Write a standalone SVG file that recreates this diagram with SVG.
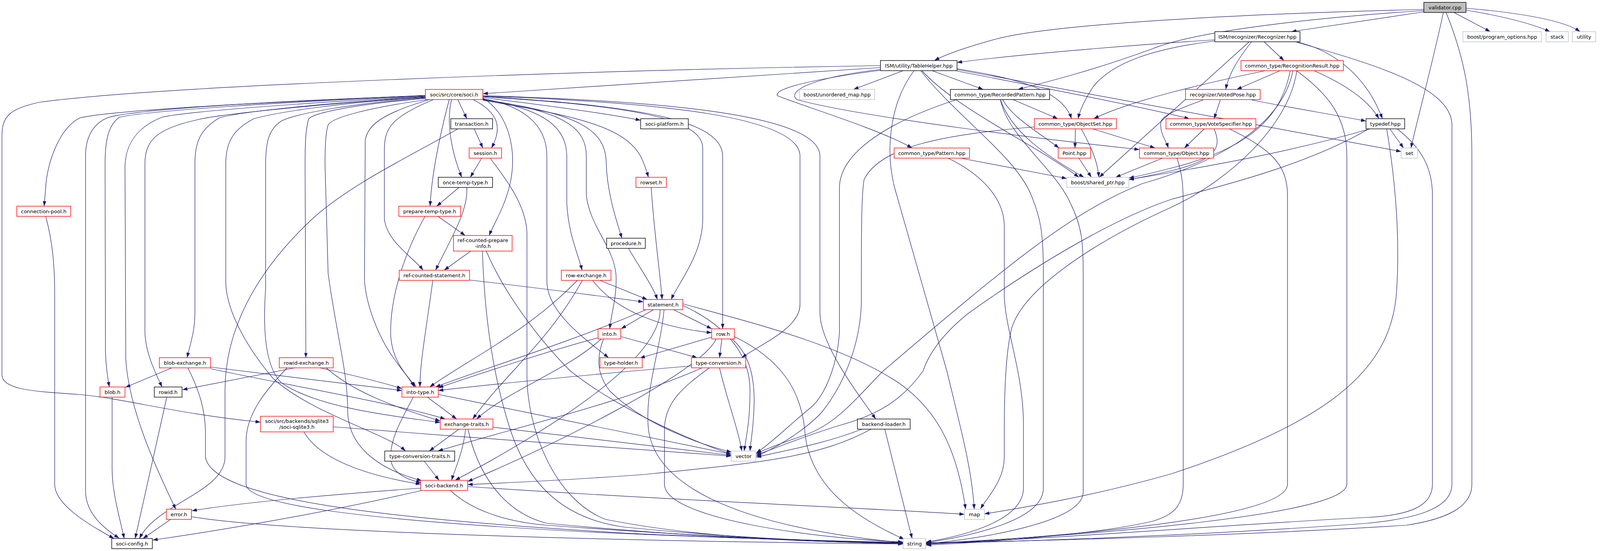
<svg xmlns="http://www.w3.org/2000/svg" width="4157" height="1411" viewBox="0 0 4157 1411">
<style>
.e{fill:none;stroke:#191970;stroke-width:1.2;marker-end:url(#a)}
.n rect{fill:#fff;stroke-width:1.4}
.k rect{stroke:#000}
.r rect{stroke:#ff0000}
.g rect{stroke:#bfbfbf}
.n text{font-family:"DejaVu Sans","Liberation Sans",sans-serif;font-size:13px;text-anchor:middle;fill:#000}
</style>
<defs>
<marker id="a" viewBox="0 0 10 7" refX="10" refY="3.5" markerWidth="13" markerHeight="9" markerUnits="userSpaceOnUse" orient="auto"><path d="M0,0 L10,3.5 L0,7 z" fill="#191970"/></marker>
</defs>
<rect x="0" y="0" width="4157" height="1411" fill="#fff"/>
<g id="edges">
<path class="e" d="M3647,30 L3306,81"/>
<path class="e" d="M3645,24 C3200,35 2700,60 2550,100 C2470,122 2420,140 2392,155"/>
<path class="e" d="M3645,27 C3300,50 3050,85 2950,125 C2800,180 2680,210 2606,229"/>
<path class="e" d="M3722,32 L3815,81"/>
<path class="e" d="M3753,26 C3850,42 3920,60 3968,81"/>
<path class="e" d="M3753,21 C3880,32 4000,50 4045,81"/>
<path class="e" d="M3695,32 C3670,150 3630,300 3612,379"/>
<path class="e" d="M3702,32 C3750,150 3768,250 3768,400 L3768,1240 C3768,1300 3700,1330 3600,1345 C3200,1370 2700,1385 2370,1390"/>
<path class="e" d="M3110,102 C2900,115 2600,140 2450,160"/>
<path class="e" d="M3110,105 C2950,125 2850,160 2800,220 C2780,250 2765,280 2760,304"/>
<path class="e" d="M3236,107 L3287,155"/>
<path class="e" d="M3204,107 C3170,150 3145,190 3138,229"/>
<path class="e" d="M3319,107 C3420,130 3500,200 3539,304"/>
<path class="e" d="M3198,107 L2814,454"/>
<path class="e" d="M3316,107 C3500,160 3717,220 3717,320 L3717,1240 C3717,1310 3600,1330 3500,1340 C3100,1370 2600,1388 2370,1391"/>
<path class="e" d="M3277,181 L3166,229"/>
<path class="e" d="M3239,181 C3100,210 2900,255 2800,304"/>
<path class="e" d="M3364,181 C3430,210 3500,250 3530,304"/>
<path class="e" d="M3319,181 C3400,240 3448,300 3448,400 L3448,1240 C3448,1320 2800,1370 2370,1392"/>
<path class="e" d="M3303,181 C3280,300 3200,380 3000,430 C2950,443 2920,450 2890,456"/>
<path class="e" d="M3310,181 C3280,330 3100,420 2925,470 C2750,540 2600,660 2261,950 C2200,1010 2150,1080 2064,1113 C2000,1135 1960,1150 1936,1162"/>
<path class="e" d="M3320,181 C3300,320 3150,460 3000,530 C2800,620 2620,740 2590,840 C2575,900 2571,1000 2571,1100 L2571,1170 C2571,1230 2530,1270 2510,1303"/>
<path class="e" d="M3558,330 L3593,379"/>
<path class="e" d="M3577,330 C3640,380 3667,430 3667,500 L3667,1240 C3667,1300 3600,1320 3500,1325 C3200,1340 2700,1380 2371,1392"/>
<path class="e" d="M3550,330 C3570,450 3585,600 3575,750 C3560,950 3400,1080 3000,1213 C2800,1270 2620,1300 2520,1316"/>
<path class="e" d="M3507,330 C3300,390 3100,425 2890,460"/>
<path class="e" d="M3504,330 C3350,420 3150,470 3000,510 C2850,560 2650,680 2478,803 C2420,850 2380,900 2363,950 C2300,1040 2220,1070 2147,1090 C2050,1120 1980,1150 1936,1165"/>
<path class="e" d="M3124,256 L3108,304"/>
<path class="e" d="M3204,256 C3300,275 3420,295 3497,310"/>
<path class="e" d="M3080,256 C3030,275 2978,292 2972,312 C2968,340 2985,360 2991,379"/>
<path class="e" d="M3083,330 L3032,379"/>
<path class="e" d="M3108,330 C3130,380 3110,410 3000,437 C2950,448 2920,455 2890,460"/>
<path class="e" d="M3147,330 C3250,380 3296,420 3296,500 L3296,1240 C3296,1330 2700,1375 2371,1394"/>
<path class="e" d="M2753,330 L2752,379"/>
<path class="e" d="M2768,330 C2790,370 2810,410 2813,454"/>
<path class="e" d="M2797,330 L2957,379"/>
<path class="e" d="M2648,325 C2400,345 2250,380 2212,460 C2205,500 2205,600 2205,780 C2200,900 2150,1000 2100,1060 C2050,1110 1980,1150 1936,1168"/>
<path class="e" d="M2762,405 L2794,454"/>
<path class="e" d="M2976,405 L2856,454"/>
<path class="e" d="M3013,405 C3025,440 3029,470 3029,520 L3029,1240 C3029,1300 3000,1320 2950,1335 C2800,1370 2500,1390 2371,1396"/>
<path class="e" d="M2459,405 L2731,457"/>
<path class="e" d="M2427,405 C2500,440 2571,500 2571,580 L2571,760 C2575,850 2618,950 2620,1080 L2620,1250 C2620,1330 2480,1370 2371,1388"/>
<path class="e" d="M2593,255 L2708,304"/>
<path class="e" d="M2567,255 C2590,300 2660,340 2711,379"/>
<path class="e" d="M2561,255 C2590,340 2680,400 2775,454"/>
<path class="e" d="M2561,255 C2580,350 2700,430 2740,520 C2770,580 2773,620 2773,700 L2773,1260 C2773,1340 2500,1380 2370,1393"/>
<path class="e" d="M2446,256 C2250,320 2150,400 2149,480 L2149,850 C2145,920 2120,1000 2080,1040 C2030,1080 1980,1130 1936,1160"/>
<path class="e" d="M2254,168 C1500,180 400,220 100,262 C20,280 5,300 5,350 L5,960 C5,1000 100,1003 200,1010 C320,1020 450,1060 667,1081"/>
<path class="e" d="M2254,173 L1236,240"/>
<path class="e" d="M2312,181 L2185,229"/>
<path class="e" d="M2386,181 L2517,229"/>
<path class="e" d="M2340,181 C2280,260 2265,380 2290,480 L2424,950 C2460,1100 2488,1200 2494,1304"/>
<path class="e" d="M2357,181 C2450,300 2600,400 2640,500 C2665,560 2671,600 2671,700 L2671,1250 C2671,1330 2500,1370 2370,1390"/>
<path class="e" d="M2360,181 C2450,280 2650,370 2762,454"/>
<path class="e" d="M2450,176 C2600,200 2720,230 2743,304"/>
<path class="e" d="M2450,178 L3587,388"/>
<path class="e" d="M2450,182 C2700,230 2950,280 3045,304"/>
<path class="e" d="M2254,178 C2100,195 2010,230 2040,255 C2200,300 2700,360 2917,383"/>
<path class="e" d="M2254,180 C2100,200 1980,225 1990,245 C2050,270 2250,330 2335,379"/>
<path class="e" d="M1089,244 C700,262 300,280 204,302 C150,330 120,420 117,480 L113,528"/>
<path class="e" d="M1089,245 C600,262 320,285 274,302 C232,320 219,360 219,400 L219,1257 C219,1310 260,1350 305,1378"/>
<path class="e" d="M1089,246 C700,262 380,284 306,300 C277,320 269,360 269,420 L270,900 C271,940 275,965 280,991"/>
<path class="e" d="M1089,247 C800,262 480,285 415,300 C340,330 320,380 320,430 L322,920 C330,1050 400,1200 450,1304"/>
<path class="e" d="M1089,248 C850,264 560,292 504,307 C400,330 371,360 371,420 L371,850 C372,900 395,950 415,991"/>
<path class="e" d="M1089,249 C850,262 620,285 561,302 C515,330 499,360 499,420 L499,800 C499,850 487,880 479,916"/>
<path class="e" d="M1089,250 C860,262 700,290 650,304 C600,330 578,360 578,420 L578,720 C578,800 640,900 700,970 C800,1060 990,1110 1038,1155"/>
<path class="e" d="M1089,251 C900,265 760,290 720,310 C690,330 680,360 680,420 L680,740 C672,850 680,940 720,980 C820,1050 1050,1070 1127,1082"/>
<path class="e" d="M1089,252 C900,268 800,290 790,305 C783,330 781,360 781,420 L783,916"/>
<path class="e" d="M1094,255 C950,275 850,300 840,320 C833,340 832,380 832,420 L840,700 C860,850 890,950 890,1050 C890,1150 980,1205 1080,1231"/>
<path class="e" d="M1100,255 C980,290 940,320 935,360 L933,720 C940,800 980,880 1010,920 C1030,950 1050,970 1060,991"/>
<path class="e" d="M1110,255 C1000,300 985,330 984,380 L984,560 C990,620 1060,660 1083,692"/>
<path class="e" d="M1172,255 L1195,304"/>
<path class="e" d="M1156,255 C1140,320 1160,400 1182,454"/>
<path class="e" d="M1150,255 C1125,350 1105,450 1101,528"/>
<path class="e" d="M1211,255 C1280,290 1285,330 1258,379"/>
<path class="e" d="M1236,251 C1300,290 1325,380 1306,470 C1292,530 1266,570 1252,603"/>
<path class="e" d="M1236,253 C1340,270 1400,320 1400,400 L1400,720 C1400,800 1500,870 1558,916"/>
<path class="e" d="M1236,254 C1400,280 1451,330 1451,400 L1451,520 C1455,600 1480,650 1490,692"/>
<path class="e" d="M1236,255 C1450,285 1501,330 1501,400 L1501,500 C1510,580 1570,630 1577,703 C1580,760 1565,800 1561,842"/>
<path class="e" d="M1236,256 C1480,290 1552,330 1552,420 C1555,500 1580,570 1592,610"/>
<path class="e" d="M1236,257 C1500,300 1600,330 1640,400 C1650,420 1656,440 1660,454"/>
<path class="e" d="M1236,250 C1400,270 1550,290 1640,308"/>
<path class="e" d="M1236,248 C1600,270 1799,300 1799,380 L1799,560 C1799,650 1740,720 1718,767"/>
<path class="e" d="M1236,247 C1650,272 1850,310 1850,400 L1850,842"/>
<path class="e" d="M1236,246 C1700,262 2048,300 2048,400 L2048,780 C2048,840 1950,880 1899,916"/>
<path class="e" d="M1236,245 C1750,260 2099,300 2099,400 L2099,800 C2099,880 2190,1000 2242,1073"/>
<path class="e" d="M1214,330 L1236,379"/>
<path class="e" d="M1172,330 C1050,400 900,470 800,560 C650,700 576,850 576,1000 L576,1170 C576,1260 400,1290 357,1379"/>
<path class="e" d="M1233,405 L1204,454"/>
<path class="e" d="M1255,405 C1280,440 1349,520 1349,600 L1349,960 C1349,1100 1420,1280 1550,1330 C1800,1380 2100,1388 2312,1392"/>
<path class="e" d="M1175,480 L1118,528"/>
<path class="e" d="M1195,480 C1198,540 1160,600 1115,692"/>
<path class="e" d="M1121,554 L1191,603"/>
<path class="e" d="M1088,554 C1040,640 1000,750 1000,850 C1000,920 1040,960 1065,991"/>
<path class="e" d="M1205,643 L1137,692"/>
<path class="e" d="M1235,643 C1240,800 1260,950 1300,1080 C1350,1250 1450,1330 1600,1350 C1900,1380 2150,1388 2312,1391"/>
<path class="e" d="M1245,643 C1290,750 1380,870 1460,950 C1600,1060 1800,1140 1872,1163"/>
<path class="e" d="M1202,717 C1400,740 1550,760 1647,773"/>
<path class="e" d="M1108,718 C1090,850 1075,930 1075,991"/>
<path class="e" d="M1536,718 L1657,767"/>
<path class="e" d="M1517,718 C1580,800 1700,840 1822,852"/>
<path class="e" d="M1478,718 C1350,850 1200,920 1100,991"/>
<path class="e" d="M1491,718 C1400,880 1300,950 1210,1073"/>
<path class="e" d="M1667,480 C1675,600 1690,700 1695,767"/>
<path class="e" d="M1609,636 C1640,690 1670,730 1683,767"/>
<path class="e" d="M1673,793 L1590,842"/>
<path class="e" d="M1724,793 L1822,842"/>
<path class="e" d="M1654,793 C1450,880 1250,940 1115,991"/>
<path class="e" d="M1690,793 C1690,900 1500,1050 1165,1230"/>
<path class="e" d="M1700,793 C1690,900 1650,1000 1660,1100 C1680,1250 1900,1350 2312,1390"/>
<path class="e" d="M1748,782 C1850,830 1920,900 1920,1000 C1920,1080 1910,1120 1905,1155"/>
<path class="e" d="M1748,778 C1900,820 2150,880 2300,980 C2400,1050 2450,1150 2472,1304"/>
<path class="e" d="M1823,863 L1638,917"/>
<path class="e" d="M1848,868 L1842,916"/>
<path class="e" d="M1874,868 C1910,900 1935,950 1930,1050 C1928,1100 1922,1130 1920,1155"/>
<path class="e" d="M1880,862 C2000,920 2050,1000 2060,1100 C2070,1250 2200,1330 2315,1381"/>
<path class="e" d="M1833,868 C1800,950 1400,1150 1197,1233"/>
<path class="e" d="M1590,862 L1785,916"/>
<path class="e" d="M1531,865 C1400,900 1250,950 1122,993"/>
<path class="e" d="M1539,868 C1450,950 1300,1000 1220,1073"/>
<path class="e" d="M1545,868 C1525,920 1530,960 1560,1000 C1650,1090 1800,1140 1873,1158"/>
<path class="e" d="M1770,937 C1500,960 1250,985 1122,1000"/>
<path class="e" d="M1797,942 C1600,1030 1300,1100 1121,1155"/>
<path class="e" d="M1816,942 C1750,990 1701,1030 1701,1100 L1701,1240 C1701,1330 2100,1380 2312,1388"/>
<path class="e" d="M1842,942 C1860,1020 1890,1100 1899,1155"/>
<path class="e" d="M440,942 L321,992"/>
<path class="e" d="M481,942 C510,1000 526,1050 526,1110 L526,1170 C540,1280 1000,1330 1600,1365 C1900,1380 2150,1386 2312,1389"/>
<path class="e" d="M539,940 C700,960 900,985 1029,1000"/>
<path class="e" d="M539,944 C700,980 1000,1030 1140,1073"/>
<path class="e" d="M755,942 L467,998"/>
<path class="e" d="M735,942 C680,1000 630,1060 630,1130 L630,1240 C630,1290 900,1330 1500,1362 C1900,1380 2150,1386 2312,1390"/>
<path class="e" d="M819,942 C900,960 980,980 1029,995"/>
<path class="e" d="M835,942 C900,1000 1000,1040 1127,1078"/>
<path class="e" d="M287,1017 L287,1200 C287,1260 305,1320 318,1379"/>
<path class="e" d="M427,1017 L346,1379"/>
<path class="e" d="M117,554 C135,620 140,680 140,760 L140,1240 C140,1290 220,1340 292,1379"/>
<path class="e" d="M437,1330 L366,1379"/>
<path class="e" d="M490,1323 C700,1360 1500,1385 2312,1393"/>
<path class="e" d="M1077,1250 C800,1270 600,1290 491,1308"/>
<path class="e" d="M1080,1256 C800,1320 550,1360 391,1383"/>
<path class="e" d="M1153,1256 C1200,1300 1280,1335 1400,1345 C1800,1375 2100,1386 2312,1391"/>
<path class="e" d="M1197,1246 C1700,1280 2200,1300 2469,1317"/>
<path class="e" d="M778,1106 C820,1180 950,1220 1077,1240"/>
<path class="e" d="M853,1093 C1200,1120 1600,1150 1872,1168"/>
<path class="e" d="M1175,1099 L1099,1155"/>
<path class="e" d="M1192,1099 C1185,1160 1165,1200 1156,1230"/>
<path class="e" d="M1198,1099 C1220,1200 1280,1310 1400,1340 C1800,1378 2100,1388 2312,1392"/>
<path class="e" d="M1262,1094 L1872,1166"/>
<path class="e" d="M1094,1017 L1169,1073"/>
<path class="e" d="M1058,1017 C1030,1070 1000,1120 1000,1170 C1000,1210 1040,1228 1078,1236"/>
<path class="e" d="M1122,1010 L1872,1163"/>
<path class="e" d="M1086,1181 L1124,1230"/>
<path class="e" d="M2230,1099 C2100,1170 1950,1185 1650,1215 C1450,1230 1300,1236 1197,1241"/>
<path class="e" d="M2207,1099 C2100,1140 2000,1155 1936,1171"/>
<path class="e" d="M2265,1099 L2335,1379"/>
</g>
<g id="validator" class="n k"><rect x="3645" y="6" width="108" height="26" style="fill:#bfbfbf"/><text x="3699" y="23.5">validator.cpp</text></g>
<g id="recognizer" class="n k"><rect x="3110" y="81" width="218" height="26"/><text x="3219" y="98.5">ISM/recognizer/Recognizer.hpp</text></g>
<g id="program_options" class="n g"><rect x="3745" y="81" width="201" height="26"/><text x="3845.5" y="98.5">boost/program_options.hpp</text></g>
<g id="stack" class="n g"><rect x="3958" y="81" width="57" height="26"/><text x="3986.5" y="98.5">stack</text></g>
<g id="utility" class="n g"><rect x="4025" y="81" width="60" height="26"/><text x="4055" y="98.5">utility</text></g>
<g id="tablehelper" class="n k"><rect x="2254" y="155" width="196" height="26"/><text x="2352" y="172.5">ISM/utility/TableHelper.hpp</text></g>
<g id="recognitionresult" class="n r"><rect x="3177" y="155" width="262" height="26"/><text x="3308" y="172.5">common_type/RecognitionResult.hpp</text></g>
<g id="soci_h" class="n r"><rect x="1089" y="229" width="147" height="26"/><text x="1162.5" y="246.5">soci/src/core/soci.h</text></g>
<g id="unordered_map" class="n g"><rect x="2047" y="229" width="192" height="26"/><text x="2143" y="246.5">boost/unordered_map.hpp</text></g>
<g id="recordedpattern" class="n k"><rect x="2433" y="229" width="254" height="26"/><text x="2560" y="246.5">common_type/RecordedPattern.hpp</text></g>
<g id="votedpose" class="n r"><rect x="3035" y="229" width="191" height="26"/><text x="3130.5" y="246.5">recognizer/VotedPose.hpp</text></g>
<g id="transaction" class="n k"><rect x="1154" y="304" width="107" height="26"/><text x="1207.5" y="321.5">transaction.h</text></g>
<g id="soci_platform" class="n k"><rect x="1640" y="304" width="122" height="26"/><text x="1701" y="321.5">soci-platform.h</text></g>
<g id="objectset" class="n r"><rect x="2648" y="304" width="210" height="26"/><text x="2753" y="321.5">common_type/ObjectSet.hpp</text></g>
<g id="votespecifier" class="n r"><rect x="2985" y="304" width="230" height="26"/><text x="3100" y="321.5">common_type/VoteSpecifier.hpp</text></g>
<g id="typedef" class="n k"><rect x="3497" y="304" width="99" height="26"/><text x="3546.5" y="321.5">typedef.hpp</text></g>
<g id="session" class="n r"><rect x="1201" y="379" width="83" height="26"/><text x="1242.5" y="396.5">session.h</text></g>
<g id="pattern" class="n r"><rect x="2289" y="379" width="193" height="26"/><text x="2385.5" y="396.5">common_type/Pattern.hpp</text></g>
<g id="point" class="n r"><rect x="2709" y="379" width="83" height="26"/><text x="2750.5" y="396.5">Point.hpp</text></g>
<g id="object" class="n r"><rect x="2917" y="379" width="190" height="26"/><text x="3012" y="396.5">common_type/Object.hpp</text></g>
<g id="set" class="n g"><rect x="3587" y="379" width="42" height="26"/><text x="3608" y="396.5">set</text></g>
<g id="once_temp_type" class="n k"><rect x="1122" y="454" width="139" height="26"/><text x="1191.5" y="471.5">once-temp-type.h</text></g>
<g id="rowset" class="n r"><rect x="1628" y="454" width="78" height="26"/><text x="1667" y="471.5">rowset.h</text></g>
<g id="shared_ptr" class="n g"><rect x="2731" y="454" width="159" height="26"/><text x="2810.5" y="471.5">boost/shared_ptr.hpp</text></g>
<g id="connection_pool" class="n r"><rect x="43" y="528" width="138" height="26"/><text x="112" y="545.5">connection-pool.h</text></g>
<g id="prepare_temp_type" class="n r"><rect x="1021" y="528" width="158" height="26"/><text x="1100" y="545.5">prepare-temp-type.h</text></g>
<g id="ref_counted_prepare_info" class="n r"><rect x="1161" y="603" width="150" height="40"/><text x="1236" y="620">ref-counted-prepare</text><text x="1236" y="635">-info.h</text></g>
<g id="procedure" class="n k"><rect x="1553" y="610" width="99" height="26"/><text x="1602.5" y="627.5">procedure.h</text></g>
<g id="ref_counted_statement" class="n r"><rect x="1022" y="692" width="180" height="26"/><text x="1112" y="709.5">ref-counted-statement.h</text></g>
<g id="row_exchange" class="n r"><rect x="1437" y="692" width="127" height="26"/><text x="1500.5" y="709.5">row-exchange.h</text></g>
<g id="statement" class="n r"><rect x="1647" y="767" width="101" height="26"/><text x="1697.5" y="784.5">statement.h</text></g>
<g id="into" class="n r"><rect x="1531" y="842" width="58" height="26"/><text x="1560" y="859.5">into.h</text></g>
<g id="row" class="n r"><rect x="1822" y="842" width="58" height="26"/><text x="1851" y="859.5">row.h</text></g>
<g id="type_holder" class="n r"><rect x="1536" y="916" width="108" height="26"/><text x="1590" y="933.5">type-holder.h</text></g>
<g id="type_conversion" class="n r"><rect x="1770" y="916" width="139" height="26"/><text x="1839.5" y="933.5">type-conversion.h</text></g>
<g id="blob_exchange" class="n r"><rect x="408" y="916" width="131" height="26"/><text x="473.5" y="933.5">blob-exchange.h</text></g>
<g id="rowid_exchange" class="n r"><rect x="715" y="916" width="138" height="26"/><text x="784" y="933.5">rowid-exchange.h</text></g>
<g id="blob" class="n r"><rect x="256" y="991" width="64" height="26"/><text x="288" y="1008.5">blob.h</text></g>
<g id="rowid" class="n k"><rect x="395" y="991" width="71" height="26"/><text x="430.5" y="1008.5">rowid.h</text></g>
<g id="into_type" class="n r"><rect x="1029" y="991" width="93" height="26"/><text x="1075.5" y="1008.5">into-type.h</text></g>
<g id="soci_sqlite3" class="n r"><rect x="667" y="1066" width="186" height="40"/><text x="760" y="1083">soci/src/backends/sqlite3</text><text x="760" y="1098">/soci-sqlite3.h</text></g>
<g id="exchange_traits" class="n r"><rect x="1127" y="1073" width="135" height="26"/><text x="1194.5" y="1090.5">exchange-traits.h</text></g>
<g id="backend_loader" class="n k"><rect x="2195" y="1073" width="135" height="26"/><text x="2262.5" y="1090.5">backend-loader.h</text></g>
<g id="type_conversion_traits" class="n k"><rect x="985" y="1155" width="179" height="26"/><text x="1074.5" y="1172.5">type-conversion-traits.h</text></g>
<g id="vector" class="n g"><rect x="1872" y="1155" width="63" height="26"/><text x="1903.5" y="1172.5">vector</text></g>
<g id="soci_backend" class="n r"><rect x="1077" y="1230" width="120" height="26"/><text x="1137" y="1247.5">soci-backend.h</text></g>
<g id="error" class="n r"><rect x="426" y="1304" width="64" height="26"/><text x="458" y="1321.5">error.h</text></g>
<g id="map" class="n g"><rect x="2469" y="1304" width="51" height="26"/><text x="2494.5" y="1321.5">map</text></g>
<g id="soci_config" class="n k"><rect x="286" y="1379" width="104" height="26"/><text x="338" y="1396.5">soci-config.h</text></g>
<g id="string" class="n g"><rect x="2312" y="1379" width="58" height="26"/><text x="2341" y="1396.5">string</text></g>
</svg>
